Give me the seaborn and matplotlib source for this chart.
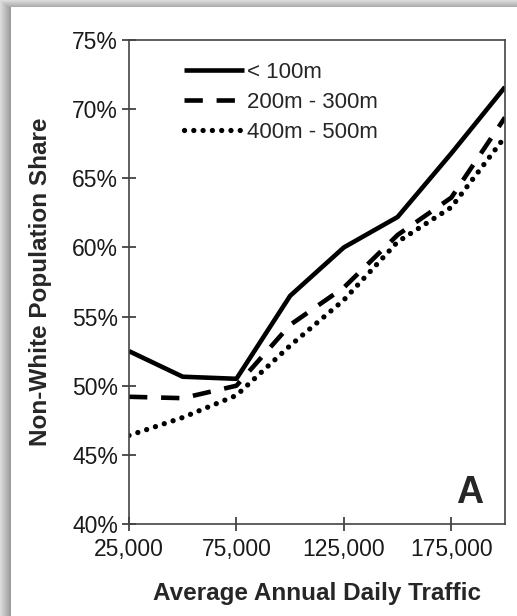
import numpy as np
import pandas as pd
import matplotlib
matplotlib.use('Agg')
import matplotlib.pyplot as plt
from matplotlib.patches import Rectangle
from matplotlib.ticker import FuncFormatter
import seaborn as sns

# data (percent of non-white population)
traffic = [25000, 50000, 75000, 100000, 125000, 150000, 175000, 200000]
near_100m = [52.5, 50.65, 50.5, 56.5, 60.0, 62.2, 66.8, 71.6]
mid_200_300m = [49.2, 49.1, 50.0, 54.4, 57.1, 60.9, 63.6, 69.4]
far_400_500m = [46.4, 47.7, 49.3, 52.9, 56.2, 60.4, 62.9, 68.0]
labels = ['< 100m', '200m - 300m', '400m - 500m']
y_ticks = [40, 45, 50, 55, 60, 65, 70, 75]
x_ticks = [25000, 75000, 125000, 175000]

df = pd.DataFrame({'traffic': traffic * 3,
                   'share': near_100m + mid_200_300m + far_400_500m,
                   'band': np.repeat(labels, len(traffic))})

sns.set_style('ticks')
plt.rcParams['font.family'] = ['Liberation Sans', 'DejaVu Sans']

W, H = 517, 616
fig = plt.figure(figsize=(W / 100, H / 100), dpi=100)
fig.patch.set_facecolor('white')

# grey drop shadow round the white card
for i in range(11):
    g = 0.86 - 0.025 * i
    fig.add_artist(Rectangle((i / W, 0), 1 / W, 1, transform=fig.transFigure,
                             color=str(g), lw=0, zorder=-5))
for i in range(7):
    g = 0.86 - 0.03 * i
    fig.add_artist(Rectangle((i / W, 1 - (i + 1) / H), 1, 1 / H, transform=fig.transFigure,
                             color=str(g), lw=0, zorder=-5))

ax = fig.add_axes([129 / W, 1 - 524 / H, 376 / W, 484 / H])

# dash pattern, cap style, line width per band
styles = {'< 100m': (None, 'butt', 3.3),
          '200m - 300m': ((4.0, 3.0), 'butt', 3.3),
          '400m - 500m': ((0.01, 1.75), 'round', 3.8)}

for lab in labels:
    sub = df[df['band'] == lab]
    dash, cap, lw = styles[lab]
    sns.lineplot(data=sub, x='traffic', y='share', ax=ax, color='black', lw=lw,
                 label=lab, legend=False)
    line = ax.lines[-1]
    if dash is not None:
        line.set_dashes(dash)
    line.set_dash_capstyle(cap)
    line.set_solid_capstyle('butt')

ax.set_xlim(25000, 200000)
ax.set_ylim(40, 75)
ax.set_xticks(x_ticks)
ax.set_yticks(y_ticks)
ax.xaxis.set_major_formatter(FuncFormatter(lambda v, p: f'{int(v):,}'))
ax.yaxis.set_major_formatter(FuncFormatter(lambda v, p: f'{int(v)}%'))
ax.tick_params(direction='inout', length=10, width=1.2, color='#333333',
               labelsize=16.5, labelcolor='#1a1a1a')
ax.tick_params(axis='x', pad=5)
ax.tick_params(axis='y', pad=3)

for sp in ax.spines.values():
    sp.set_visible(True)
    sp.set_color('#444444')
    sp.set_linewidth(1.2)

ax.set_xlabel('Average Annual Daily Traffic', fontsize=17.5, fontweight='bold', labelpad=15)
ax.set_ylabel('Non-White Population Share', fontsize=17.5, fontweight='bold', labelpad=14)

ax.legend(loc='upper left', bbox_to_anchor=((184 - 129) / 376, 0.955), frameon=False,
          fontsize=16, handlelength=2.7, handletextpad=0.15, labelspacing=0.4,
          borderpad=0, borderaxespad=0)

ax.text(0.905, 0.065, 'A', transform=ax.transAxes, fontsize=27, fontweight='bold',
        ha='center', va='center')

fig.savefig('out.png', dpi=100)
